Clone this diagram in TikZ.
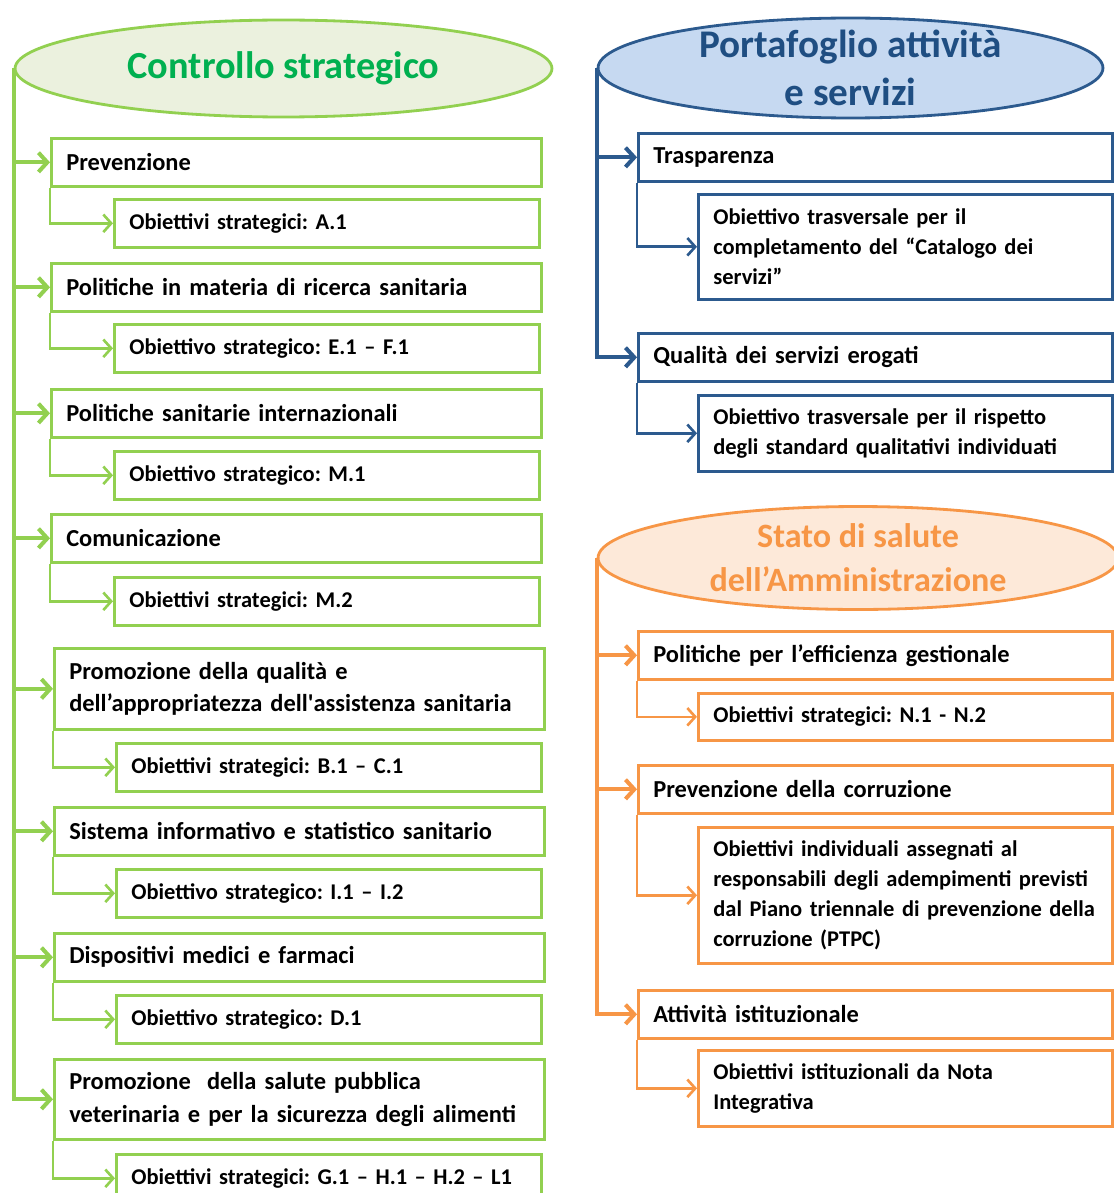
\documentclass[tikz,border=0pt]{standalone}
\usepackage{fontspec}
\setmainfont{Carlito}
\usetikzlibrary{shapes.geometric,arrows.meta}
\frenchspacing

\definecolor{grnline}{HTML}{92D050}
\definecolor{grnfill}{HTML}{EBF1DE}
\definecolor{grntext}{HTML}{00B050}
\definecolor{bluline}{HTML}{2C5A8E}
\definecolor{blufill}{HTML}{C6D9F1}
\definecolor{blutext}{HTML}{1F4E82}
\definecolor{orgline}{HTML}{F79646}
\definecolor{orgfill}{HTML}{FDE9D9}
\definecolor{orgtext}{HTML}{F79646}

\begin{document}
\begin{tikzpicture}[x=0.02cm, y=-0.02cm,
    box/.style={draw, text=black, line width=1.5pt, inner xsep=0.3cm, inner ysep=2pt,
      anchor=north west, align=left},
    mainfont/.style={font=\fontsize{13.9}{18.7}\selectfont\bfseries},
    subfont/.style={font=\fontsize{12.8}{17}\selectfont\bfseries},
    lmain/.style={box, mainfont, text width=9.2cm, minimum height=#1},
    lmain/.default=0.96cm,
    lsub/.style={box, subfont, text width=7.9cm, minimum height=0.96cm},
    rmain/.style={box, mainfont, text width=8.88cm, minimum height=0.96cm},
    rsub/.style={box, subfont, text width=7.68cm, minimum height=#1},
    rsub/.default=0.94cm,
    head/.style={ellipse, draw, line width=1.6pt, inner sep=0pt},
    mainarr/.style={line width=2.3pt, -{Straight Barb[length=5pt,width=11pt]}},
    subarr/.style={line width=1.5pt, -{Straight Barb[length=4.5pt,width=10pt]}}
  ]
  \useasboundingbox (0,0) rectangle (1113,1193);

  % Controllo strategico
  \begin{scope}[color=grnline]
    \node[head, fill=grnfill, minimum width=10.74cm, minimum height=1.94cm,
      label={[text=grntext, font=\fontsize{21.8}{26}\selectfont\bfseries]center:Controllo strategico}]
      (cs) at (283.5,68.5) {};
    \node[lmain] (prev) at (50,137) {Prevenzione};
    \node[lsub] (prevs) at (113,198) {Obiettivi strategici: A.1};
    \node[lmain] (ric) at (50,262) {Politiche in materia di ricerca sanitaria};
    \node[lsub] (rics) at (113,323) {Obiettivo strategico: E.1 – F.1};
    \node[lmain] (intz) at (50,388) {Politiche sanitarie internazionali};
    \node[lsub] (intzs) at (113,450) {Obiettivo strategico: M.1};
    \node[lmain] (com) at (50,513) {Comunicazione};
    \node[lsub] (coms) at (113,576) {Obiettivi strategici: M.2};
    \node[lmain=1.62cm] (qual) at (53,647) {Promozione della qualità e\\dell’appropriatezza dell\textquotesingle assistenza sanitaria};
    \node[lsub] (quals) at (115,742) {Obiettivi strategici: B.1 – C.1};
    \node[lmain] (sis) at (53,806) {Sistema informativo e statistico sanitario};
    \node[lsub] (siss) at (115,868) {Obiettivo strategico: I.1 – I.2};
    \node[lmain] (disp) at (53,932) {Dispositivi medici e farmaci};
    \node[lsub] (disps) at (115,994) {Obiettivo strategico: D.1};
    \node[lmain=1.6cm] (vet) at (53,1058) {Promozione~ della salute pubblica\\veterinaria e per la sicurezza degli alimenti};
    \node[lsub] (vets) at (115,1153) {Obiettivi strategici: G.1 – H.1 – H.2 – L1};

    \foreach \m in {prev,ric,intz,com,qual,sis,disp,vet}{
      \draw[mainarr] (cs.west) |- (\m.west);
      \draw[subarr] (\m.south west) |- (\m s.west);
    }
  \end{scope}

  % Portafoglio attivita e servizi
  \begin{scope}[color=bluline]
    \node[head, fill=blufill, minimum width=10.1cm, minimum height=2cm,
      label={[text=blutext, align=center, font=\fontsize{22.3}{27.5}\selectfont\bfseries]center:Portafoglio attività\\e servizi}]
      (pf) at (850.5,68) {};
    \node[rmain] (tra) at (637,132) {Trasparenza};
    \node[rsub=2.1cm] (tras) at (697,193) {Obiettivo trasversale per il\\completamento del “Catalogo dei\\servizi”};
    \node[rmain] (qse) at (637,332) {Qualità dei servizi erogati};
    \node[rsub=1.52cm] (qses) at (697,394) {Obiettivo trasversale per il rispetto\\degli standard qualitativi individuati};

    \foreach \m in {tra,qse}{
      \draw[mainarr] (pf.west) |- (\m.west);
      \draw[subarr] (\m.south west) |- (\m s.west);
    }
  \end{scope}

  % Stato di salute dell'Amministrazione
  \begin{scope}[color=orgline]
    \node[head, fill=orgfill, minimum width=10.4cm, minimum height=2.06cm,
      label={[text=orgtext, align=center, font=\fontsize{19.4}{25}\selectfont\bfseries]center:Stato di salute\\dell’Amministrazione}]
      (st) at (858,558) {};
    \node[rmain] (eff) at (637,630) {Politiche per l’efficienza gestionale};
    \node[rsub] (effs) at (697,692) {Obiettivi strategici: N.1 - N.2};
    \node[rmain] (cor) at (637,764) {Prevenzione della corruzione};
    \node[rsub=2.72cm] (cors) at (697,826) {Obiettivi individuali assegnati al\\responsabili degli adempimenti previsti\\dal Piano triennale di prevenzione della\\corruzione (PTPC)};
    \node[rmain] (ist) at (637,989) {Attività istituzionale};
    \node[rsub=1.52cm] (ists) at (697,1049) {Obiettivi istituzionali da Nota\\Integrativa};

    \foreach \m in {eff,cor,ist}{
      \draw[mainarr] (st.west) |- (\m.west);
      \draw[subarr] (\m.south west) |- (\m s.west);
    }
  \end{scope}
\end{tikzpicture}
\end{document}
